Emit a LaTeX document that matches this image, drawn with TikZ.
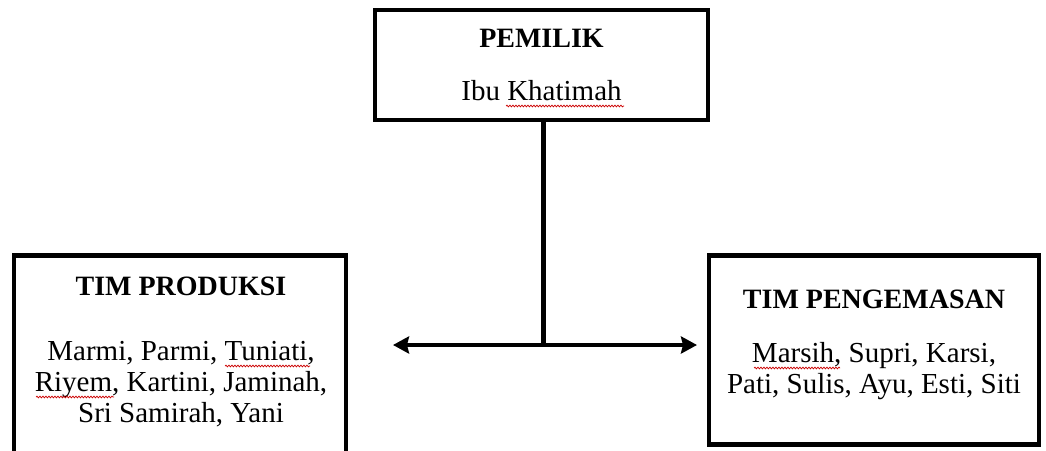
\documentclass[tikz,border=0pt]{standalone}
\usepackage{fontspec}
\setmainfont{Liberation Serif}
\usetikzlibrary{arrows.meta,decorations.pathmorphing}
\begin{document}
\begin{tikzpicture}[x=1pt,y=1pt,
  box/.style={draw=black,line width=4.5pt,rectangle,inner sep=0pt},
  ttl/.style={anchor=base,font=\fontsize{28}{31}\selectfont\bfseries},
  txt/.style={anchor=base,font=\fontsize{29}{31}\selectfont},
  link/.style={line width=4.5pt},
  dblarrow/.style={line width=4.5pt,{Stealth[length=16pt,width=17pt,inset=2pt]}-{Stealth[length=16pt,width=17pt,inset=2pt]}},
  spell/.style={red!80!black,line width=0.7pt,decorate,decoration={snake,amplitude=0.9pt,segment length=3pt}}]
\useasboundingbox (0,0) rectangle (1046,-450);
\fill[white] (0,0) rectangle (1046,-450);
% boxes
\node[box,minimum width=333,minimum height=110] (pemilik) at (541.5,-65) {};
\node[box,minimum width=332,minimum height=205] (produksi) at (180,-358) {};
\node[box,minimum width=330,minimum height=189] (kemas) at (874,-350) {};
% texts
\node[ttl] (t1) at (541.5,-47) {PEMILIK};
\node[txt] (t1a) at (541.5,-100) {Ibu Khatimah};
\node[ttl] (t2) at (181,-295) {TIM PRODUKSI};
\node[txt] (t2a) at (181,-360) {Marmi, Parmi, Tuniati,};
\node[txt] (t2b) at (181,-391) {Riyem, Kartini, Jaminah,};
\node[txt] (t2c) at (181,-422) {Sri Samirah, Yani};
\node[ttl] (t3) at (874,-308) {TIM PENGEMASAN};
\node[txt] (t3a) at (874,-362) {Marsih, Supri, Karsi,};
\node[txt] (t3b) at (874,-393) {Pati, Sulis, Ayu, Esti, Siti};
% connectors
\coordinate (junc) at (543.5,-345);
\coordinate (lend) at (393,-345);
\coordinate (rend) at (697,-345);
\draw[link] (pemilik.south -| junc) -- ([yshift=-2.25pt]junc);
\draw[dblarrow] (lend) -- (rend);
% spell-check marks
\draw[spell] (506,-106) -- (624,-106);
\draw[spell] (225,-366) -- (310,-366);
\draw[spell] (36,-397) -- (114,-397);
\draw[spell] (754,-368) -- (840,-368);
\end{tikzpicture}
\end{document}
